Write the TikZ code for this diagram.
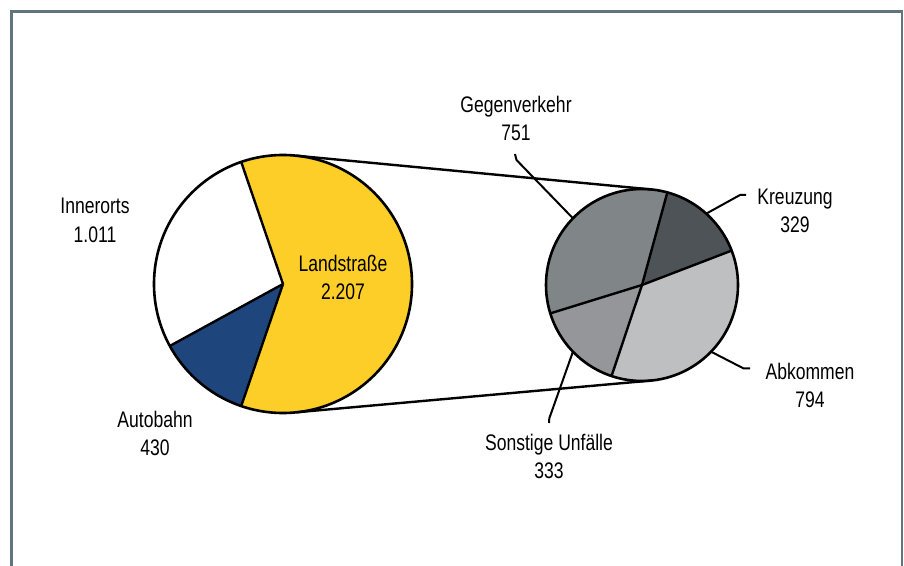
\documentclass[tikz,border=0pt]{standalone}
\usepackage{fontspec}
\setmainfont{Liberation Sans}[FakeStretch=0.78]
\usepackage{xcolor}
\usepackage{tikz}

\definecolor{framegray}{RGB}{98,116,125}
\definecolor{roadyellow}{RGB}{254,206,40}
\definecolor{motorblue}{RGB}{30,70,125}
\definecolor{gvgray}{RGB}{128,133,135}
\definecolor{krgray}{RGB}{78,83,87}
\definecolor{abgray}{RGB}{189,191,193}
\definecolor{sogray}{RGB}{148,150,153}

\begin{document}
\begin{tikzpicture}[
  x=1pt, y=1pt,
  frame/.style={draw=framegray, line width=2.8pt},
  rim/.style={draw, circle, line width=2.6pt, inner sep=0pt, outer sep=0pt},
  spoke/.style={line width=2.4pt},
  leader/.style={line width=2pt, line join=round},
  lbl/.style={align=center, inner sep=0pt,
              font=\fontsize{22.5}{28.5}\selectfont}
]
  \path[use as bounding box] (0,0) rectangle (904,565);
  \draw[frame] (11.5,-5) |- (902,553.5) -- (902,-5);

  \coordinate (lc) at (283,281);
  \coordinate (rc) at (642,280);

  \foreach \a/\b/\c in {-108.9/108.9/roadyellow, 108.9/208.7/white,
                        208.7/251.1/motorblue}
    \fill[\c] (lc) -- ++(\a:129) arc[start angle=\a, end angle=\b, radius=129] -- cycle;
  \foreach \a in {108.9, 208.7, 251.1}
    \draw[spoke] (lc) -- ++(\a:129);

  \foreach \a/\b/\c in {21/74.7/krgray, 74.7/197.2/gvgray,
                        197.2/251.5/sogray, 251.5/381/abgray}
    \fill[\c] (rc) -- ++(\a:96) arc[start angle=\a, end angle=\b, radius=96] -- cycle;
  \foreach \a in {21, 74.7, 197.2, 251.5}
    \draw[spoke] (rc) -- ++(\a:96);

  \node[rim, minimum size=258pt] (L) at (lc) {};
  \node[rim, minimum size=192pt] (R) at (rc) {};

  \draw[spoke] (L.84.7) -- (R.84.7);
  \draw[spoke] (L.-84.7) -- (R.-84.7);

  \node[lbl] (road) at (343,287.7) {Landstraße\\2.207};
  \node[lbl] (inner) at (95,344.5) {Innerorts\\1.011};
  \node[lbl] (motor) at (155,131.3) {Autobahn\\430};
  \node[lbl] (oncoming) at (516,446.5) {Gegenverkehr\\751};
  \node[lbl] (cross) at (795,354) {Kreuzung\\329};
  \node[lbl] (offroad) at (810,179.5) {Abkommen\\794};
  \node[lbl] (other) at (549,108.7) {Sonstige Unfälle\\333};

  \coordinate (oncoming-end) at (515,411);
  \coordinate (cross-end) at (746,370);
  \coordinate (offroad-end) at (750,196.7);
  \coordinate (other-end) at (549,142);

  \draw[leader] (oncoming-end) -- ++(1.5,-6) -- (R.136);
  \draw[leader] (cross-end) -- ++(-6,0) -- (R.48);
  \draw[leader] (offroad-end) -- ++(-6.7,0) -- (R.-44);
  \draw[leader] (other-end) -- ++(0.3,4.7) -- (R.224);
\end{tikzpicture}
\end{document}
